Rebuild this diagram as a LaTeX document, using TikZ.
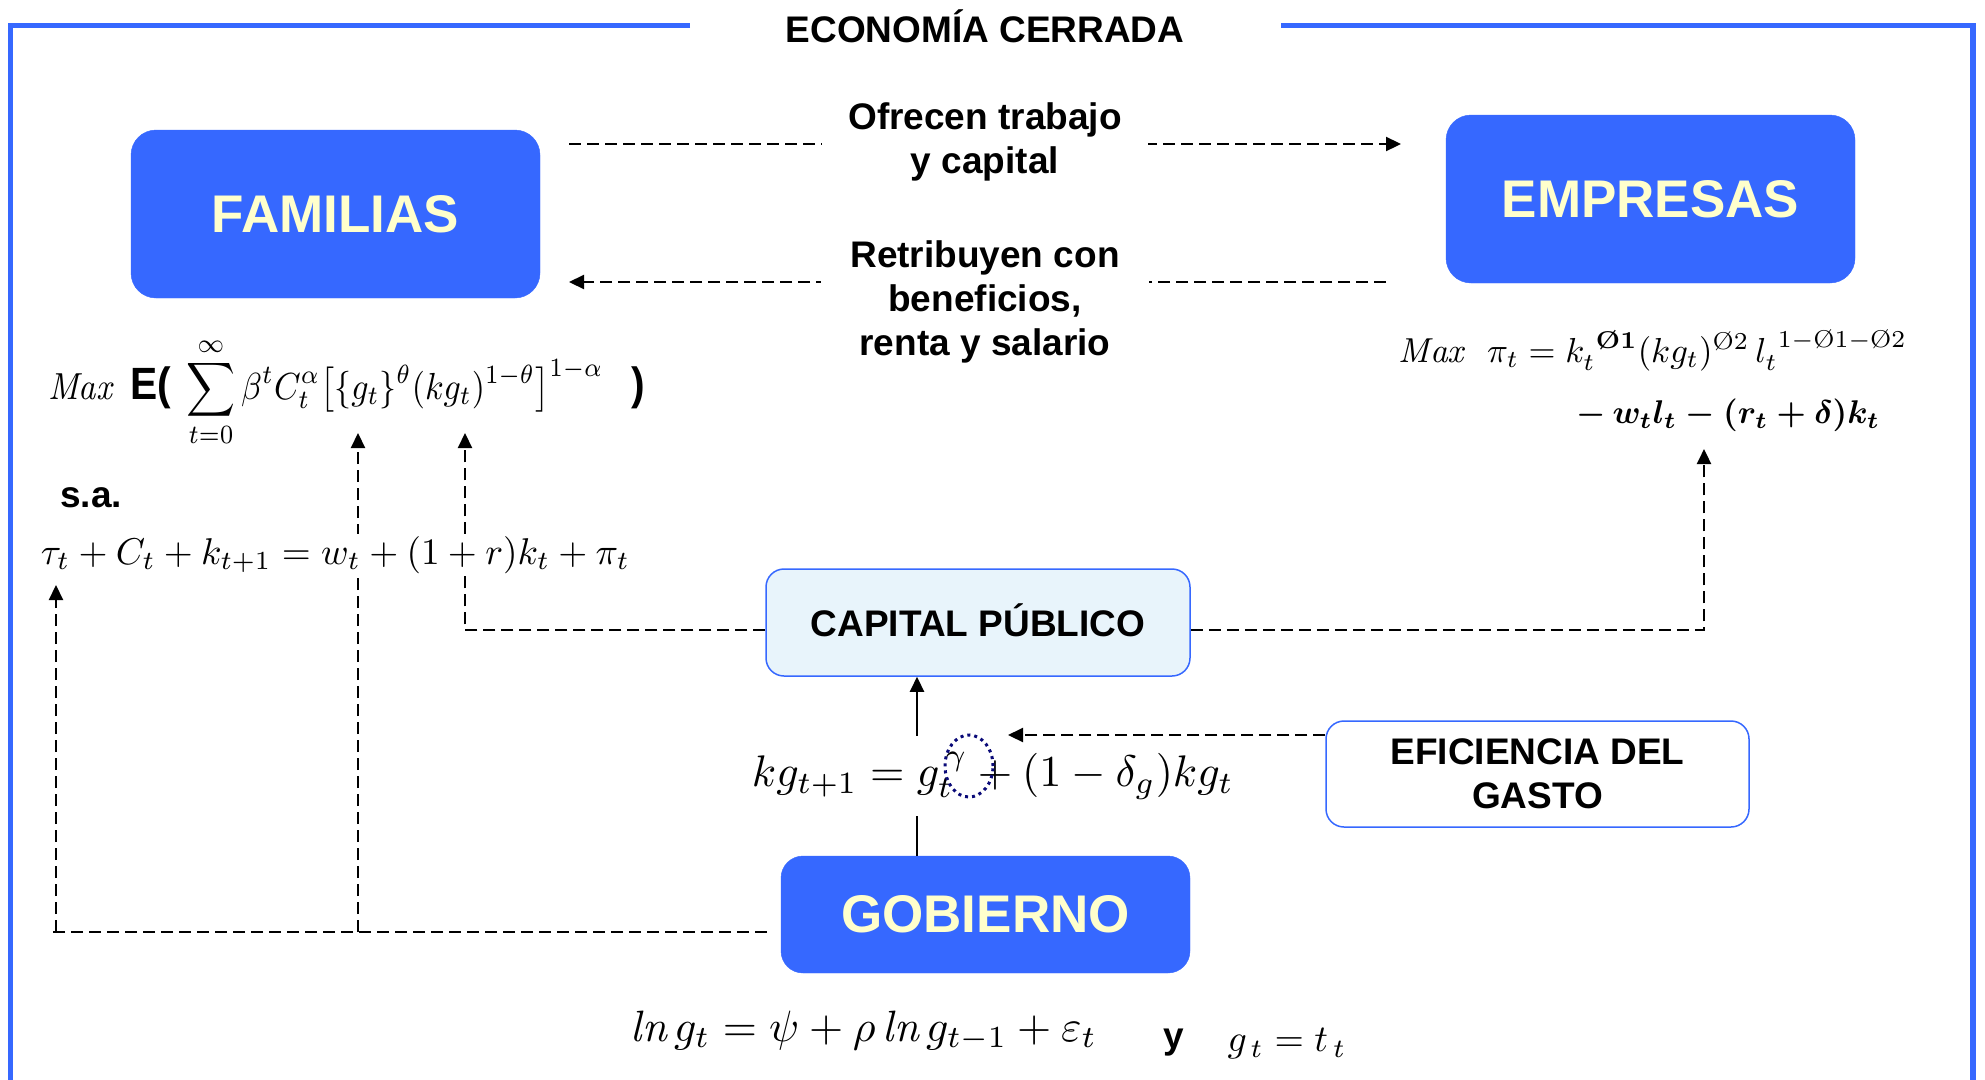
\documentclass[tikz,border=0pt]{standalone}
\usepackage{amsmath}
\usepackage{graphicx}
\usepackage{fontspec}
\setsansfont{Liberation Sans}
\usetikzlibrary{arrows.meta}
\definecolor{mblue}{RGB}{54,104,255}
\definecolor{ltxt}{RGB}{255,255,204}
\definecolor{capfill}{RGB}{232,244,251}
\definecolor{navyd}{RGB}{10,10,120}
\begin{document}
\begin{tikzpicture}[x=1pt,y=-1pt,
  bigbox/.style={fill=mblue, draw=mblue, rounded corners=25pt, text=ltxt,
    font=\sffamily\bfseries\fontsize{53}{60}\selectfont, inner sep=0pt},
  lightbox/.style={draw=mblue, line width=1.5pt, rounded corners=18pt,
    font=\sffamily\bfseries\fontsize{37}{44}\selectfont, align=center, inner sep=0pt},
  lbl/.style={font=\sffamily\bfseries\fontsize{37}{44}\selectfont, align=center,
    fill=white, inner ysep=2pt},
  conn/.style={dash pattern=on 12pt off 6pt, line width=2.2pt, black},
  tipa/.style={-{Triangle[length=15pt,width=14pt]}},
  frame/.style={mblue, line width=5.5pt}
]
\useasboundingbox (0,0) rectangle (1985,1079);
% frame
\draw[frame] (690,25.5) -- (10.5,25.5) -- (10.5,1095);
\draw[frame] (1281,25.5) -- (1973,25.5) -- (1973,1095);
\node[font=\sffamily\bfseries\fontsize{37}{44}\selectfont, anchor=base] (title) at (985,42) {ECONOMÍA CERRADA};

% boxes
\node[bigbox, minimum width=409pt, minimum height=168pt] (fam) at (335.5,214) {FAMILIAS};
\node[bigbox, minimum width=409pt, minimum height=168pt] (emp) at (1650.5,199) {EMPRESAS};
\node[bigbox, minimum width=409pt, minimum height=117pt, rounded corners=22pt] (gob) at (985.5,914.5) {GOBIERNO};
\node[lightbox, fill=capfill, minimum width=424pt, minimum height=107pt, text height=27pt, text depth=0pt] (cap) at (978,622.5) {CAPITAL PÚBLICO};
\node[lightbox, fill=white, minimum width=423pt, minimum height=106pt] (efi) at (1537.5,774) {EFICIENCIA DEL\\GASTO};

% top connectors with labels
\coordinate (o1) at (569,144);
\coordinate (o2) at (1401,144);
\draw[conn,tipa] (o1) -- (o2);
\node[lbl, inner xsep=26pt] (ofr) at (985,142) {Ofrecen trabajo\\y capital};
\coordinate (r1) at (1386,282);
\coordinate (r2) at (569,282);
\draw[conn,tipa] (r1) -- (r2);
\node[lbl, inner xsep=29pt] (ret) at (985,302) {Retribuyen con\\beneficios,\\renta y salario};

% capital public connectors
\draw[conn,tipa] (cap.west |- 0,630) -| (465,433);
\draw[conn,tipa] (cap.east |- 0,630) -| (1704,449);

% government to families
\coordinate (g0) at (767,932);
\coordinate (g1) at (48,932);
\draw[conn] (g0) -- (g1);
\draw[conn,tipa] (56,932) -- (56,585);
\draw[conn,tipa] (358,932) -- (358,433);

% family formulas
\node[inner sep=0pt, anchor=west] (maxf) at (48,392) {\resizebox*{597pt}{110pt}{$\mathit{Max}\;\;\text{\sffamily\bfseries\large E(}\;\displaystyle\sum_{t=0}^{\infty}\beta^{t}C_t^{\alpha}\big[\{g_t\}^{\theta}(kg_t)^{1-\theta}\big]^{1-\alpha}\;\;\;\text{\sffamily\bfseries\large )}$}};
\node[font=\sffamily\bfseries\fontsize{37}{44}\selectfont, anchor=base west, inner sep=0pt] (sa) at (60,507) {s.a.};
\node[fill=white, inner sep=2pt] (bc) at (335.5,555) {\resizebox{589pt}{!}{$\tau_t + C_t + k_{t+1} = w_t + (1+r)k_t + \pi_t$}};

% firm formulas
\node[inner sep=0pt] (pf1) at (1653,350) {\resizebox{508pt}{!}{$\mathit{Max}\ \ \pi_t = k_t^{\ \textbf{\O1}}(kg_t)^{\text{\O}2}\,l_t^{\ 1-\text{\O}1-\text{\O}2}$}};
\node[inner sep=0pt] (pf2) at (1728.5,415) {\resizebox{303pt}{!}{\boldmath$-\,w_t l_t - (r_t+\delta)k_t$}};

% government to capital
\draw[line width=2.2pt, tipa] (gob.north -| 917,0) -- (cap.south -| 917,0);
\node[fill=white, inner sep=0pt, minimum height=80pt, minimum width=484pt] (kgf) at (993,776) {\resizebox{482pt}{!}{$kg_{t+1} = g_t^{\,\gamma} + (1-\delta_g)kg_t$}};
\draw[navyd, line width=3pt, dash pattern=on 3pt off 4pt] (969,766) ellipse [x radius=24pt, y radius=31pt];
\draw[conn,tipa] (efi.west |- 0,735) -- (1008,735);

% bottom formulas
\node[inner sep=0pt] (lnf) at (864,1031) {\resizebox{466pt}{!}{$\mathit{ln}\,g_t = \psi + \rho\,\mathit{ln}\,g_{t-1} + \varepsilon_t$}};
\node[font=\sffamily\bfseries\fontsize{37}{44}\selectfont, anchor=base, inner sep=0pt] (yy) at (1174,1048) {y};
\node[inner sep=0pt] (gtt) at (1287,1044) {\resizebox{119pt}{!}{$g_{\,t} = t_{\,t}$}};
\end{tikzpicture}
\end{document}
